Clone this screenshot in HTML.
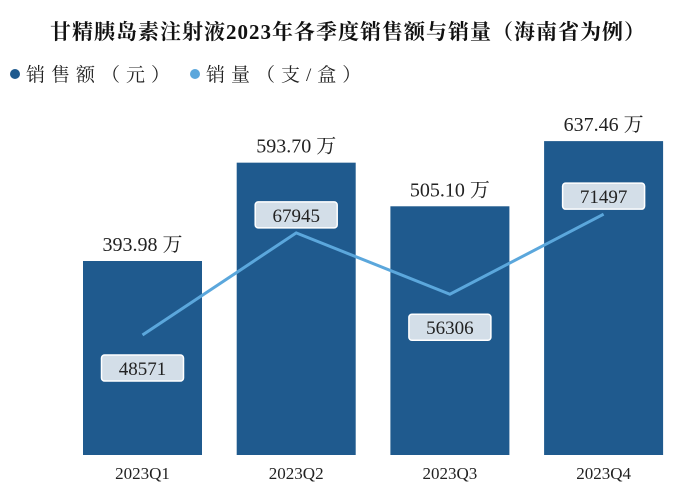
<!DOCTYPE html>
<html><head><meta charset="utf-8">
<style>
body{margin:0;background:#fff;}
svg{display:block;font-family:"Liberation Serif","Noto Serif CJK SC",serif;}
</style></head>
<body>
<svg id="chart" width="692" height="502" viewBox="0 0 692 502">
<text x="348" y="39" text-anchor="middle" font-size="21" font-weight="bold" letter-spacing="1" fill="#111">甘精胰岛素注射液2023年各季度销售额与销量（海南省为例）</text>
<g>
<circle cx="15" cy="74" r="5" fill="#1f5a8e"/>
<text x="26" y="81" font-size="19" letter-spacing="6" fill="#222">销售额（元）</text>
<circle cx="195" cy="74" r="5" fill="#5ba7dc"/>
<text x="206" y="81" font-size="19" letter-spacing="6" fill="#222">销量（支/盒）</text>
</g>
<g id="bars"></g>
<g id="line"></g>
<g id="labels"></g>
</svg>
<script>
const categories = ["2023Q1","2023Q2","2023Q3","2023Q4"];
const salesValues = [393.98, 593.70, 505.10, 637.46];
const volumeValues = [48571, 67945, 56306, 71497];
const labelBelow = [true, false, true, false];

const NS = "http://www.w3.org/2000/svg";
const baseY = 455, barW = 119, left0 = 83, step = 153.7;
function xCenter(i){ return left0 + i*step + barW/2; }
function ySales(v){ return baseY - v*0.4924; }
function yVol(v){ return 335 - (v-48571)*0.00527; }
function mk(tag, attrs, parent){ const e=document.createElementNS(NS,tag); for(const k in attrs) e.setAttribute(k,attrs[k]); parent.appendChild(e); return e; }

const gb=document.getElementById('bars'), gl=document.getElementById('line'), gt=document.getElementById('labels');
categories.forEach((c,i)=>{
  const x=xCenter(i), y=ySales(salesValues[i]);
  const r=mk('rect',{x:x-barW/2,y:y,width:barW,height:baseY-y,fill:'#1f5a8e'},gb);
  
  
  const t=mk('text',{x:x,y:y-10,'text-anchor':'middle','font-size':'20',fill:'#222'},gt);
  t.textContent=salesValues[i].toFixed(2)+' 万';
  
  
  const ct=mk('text',{x:x,y:479,'text-anchor':'middle','font-size':'17',fill:'#222'},gt);
  ct.textContent=c;
  
  
});
const pts=volumeValues.map((v,i)=>xCenter(i)+','+yVol(v)).join(' ');
const pl=mk('polyline',{points:pts,fill:'none',stroke:'#5ba7dc','stroke-width':'3'},gl);


volumeValues.forEach((v,i)=>{
  const x=xCenter(i), y=yVol(v);
  const cy = labelBelow[i] ? y+33 : y-18;
  const b=mk('rect',{x:x-41,y:cy-13,width:82,height:26,rx:3,fill:'#d3dee8',stroke:'#fff','stroke-width':'1.5'},gt);
  
  
  const t=mk('text',{x:x,y:cy+7,'text-anchor':'middle','font-size':'19',fill:'#222'},gt);
  t.textContent=String(v);
  
  
});
</script>
</body></html>
